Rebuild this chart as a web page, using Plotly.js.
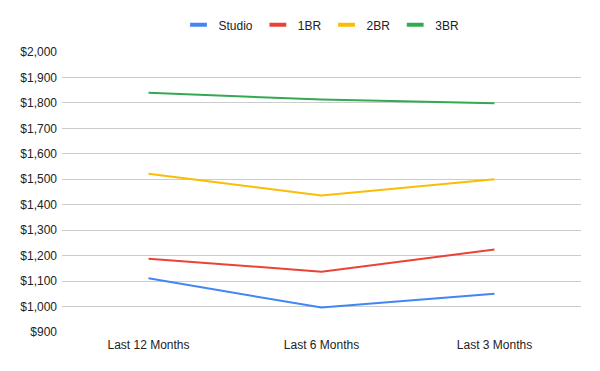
<!DOCTYPE html>
<html><head><meta charset="utf-8">
<script src="https://cdn.plot.ly/plotly-3.0.1.min.js"></script>
<style>html,body{margin:0;padding:0;background:#fff}#chart{width:600px;height:371px}</style>
</head><body><div id="chart"></div>
<script>
const categories = ["Last 12 Months", "Last 6 Months", "Last 3 Months"];
const studio = [1111, 996, 1050];
const br1 = [1188, 1137, 1224];
const br2 = [1522, 1436, 1500];
const br3 = [1840, 1813, 1799];
const seriesNames = ["Studio", "1BR", "2BR", "3BR"];
const colors = ["#4285F4", "#EA4335", "#FBBC04", "#34A853"];
const yTickVals = [900,1000,1100,1200,1300,1400,1500,1600,1700,1800,1900,2000];
const yTickText = ["$900","$1,000","$1,100","$1,200","$1,300","$1,400","$1,500","$1,600","$1,700","$1,800","$1,900","$2,000"];

const all = [studio, br1, br2, br3];
const traces = all.map((vals, i) => ({
  x: categories, y: vals, type: 'scatter', mode: 'lines',
  name: seriesNames[i], line: {color: colors[i], width: 2},
  legendgroup: seriesNames[i], showlegend: false
}));
// legend entries with short thick swatches like the reference
const legendTraces = seriesNames.map((n, i) => ({
  x: [null], y: [null], type: 'scatter', mode: 'markers', name: n,
  legendgroup: n, showlegend: true,
  marker: {symbol: 'line-ew', size: 12, color: colors[i], line: {color: colors[i], width: 4}}
}));

const layout = {
  width: 600, height: 371,
  margin: {l: 62, r: 19, t: 51, b: 39},
  paper_bgcolor: '#fff', plot_bgcolor: '#fff',
  font: {family: 'Liberation Sans, Arial, sans-serif', color: '#222', size: 12},
  showlegend: true,
  legend: {orientation: 'h', x: 0.5, xanchor: 'center', y: 1.093, yanchor: 'middle',
           font: {size: 12, color: '#222'}, traceorder: 'normal', itemwidth: 30},
  xaxis: {type: 'category', range: [-0.5, 2.5], showgrid: false, zeroline: false,
          showline: false, ticks: '', tickfont: {size: 12, color: '#222'}, ticklabelstandoff: 4},
  yaxis: {range: [900, 2000], tickvals: yTickVals, ticktext: yTickText,
          showgrid: true, gridcolor: '#cccccc', gridwidth: 1, zeroline: false, showline: false,
          ticks: '', tickfont: {size: 12, color: '#222'}, ticklabelstandoff: 4, fixedrange: true}
};
Plotly.newPlot('chart', traces.concat(legendTraces), layout, {displayModeBar: false, staticPlot: true});
</script></body></html>
